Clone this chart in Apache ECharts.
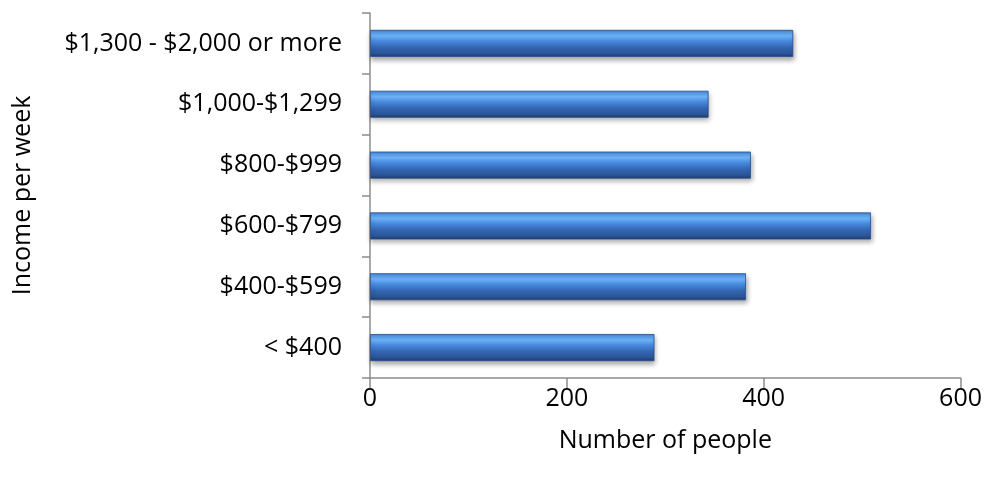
<!DOCTYPE html>
<html>
<head>
<meta charset="utf-8">
<script src="https://cdn.jsdelivr.net/npm/echarts@6/dist/echarts.min.js"></script>
<style>
  html, body { margin: 0; padding: 0; background: #fff; }
  #chart { width: 985px; height: 485px; }
</style>
</head>
<body>
<div id="chart"></div>
<script>
// Weekly income brackets (bottom to top) and how many people fall in each
const categories = ['< $400', '$400-$599', '$600-$799', '$800-$999', '$1,000-$1,299', '$1,300 - $2,000 or more'];
const people = [289, 382, 509, 387, 344, 430];
const xTicks = [0, 200, 400, 600];

const font = '"Open Sans", "Noto Sans", sans-serif';
const fs = 25;

const barColor = new echarts.graphic.LinearGradient(0, 0, 0, 1, [
  { offset: 0.00, color: '#3f7fd0' },
  { offset: 0.10, color: '#5aa0ee' },
  { offset: 0.22, color: '#70b6fa' },
  { offset: 0.40, color: '#4a8ce0' },
  { offset: 0.65, color: '#3466b4' },
  { offset: 0.88, color: '#2b5495' },
  { offset: 1.00, color: '#1e3a68' }
]);

const chart = echarts.init(document.getElementById('chart'), null, { renderer: 'canvas' });
chart.setOption({
  animation: false,
  grid: { left: 370, right: 24, top: 13, bottom: 107, containLabel: false },
  xAxis: {
    type: 'value',
    min: xTicks[0],
    max: xTicks[xTicks.length - 1],
    interval: 200,
    name: 'Number of people',
    nameLocation: 'middle',
    nameGap: 50,
    nameTextStyle: { fontFamily: font, fontSize: fs, color: '#000' },
    axisLine: { show: true, lineStyle: { color: '#8c8c8c', width: 1.5 } },
    axisTick: { show: true, length: 10, lineStyle: { color: '#8c8c8c', width: 1.5 } },
    axisLabel: { fontFamily: font, fontSize: fs, color: '#000', margin: 8 },
    splitLine: { show: false }
  },
  yAxis: {
    type: 'category',
    data: categories,
    name: 'Income per week',
    nameLocation: 'middle',
    nameGap: 335,
    nameRotate: 90,
    nameTextStyle: { fontFamily: font, fontSize: fs, color: '#000' },
    axisLine: { show: true, lineStyle: { color: '#8c8c8c', width: 1.5 } },
    axisTick: { show: true, length: 8, alignWithLabel: false, lineStyle: { color: '#8c8c8c', width: 1.5 } },
    axisLabel: { fontFamily: font, fontSize: fs, color: '#000', margin: 28 }
  },
  series: [{
    type: 'bar',
    data: people,
    barWidth: 27,
    itemStyle: {
      color: barColor,
      borderColor: '#2a4f8c',
      borderWidth: 0.8,
      shadowColor: 'rgba(0,0,0,0.35)',
      shadowBlur: 5,
      shadowOffsetY: 3,
      shadowOffsetX: 1
    }
  }]
});
</script>
</body>
</html>
